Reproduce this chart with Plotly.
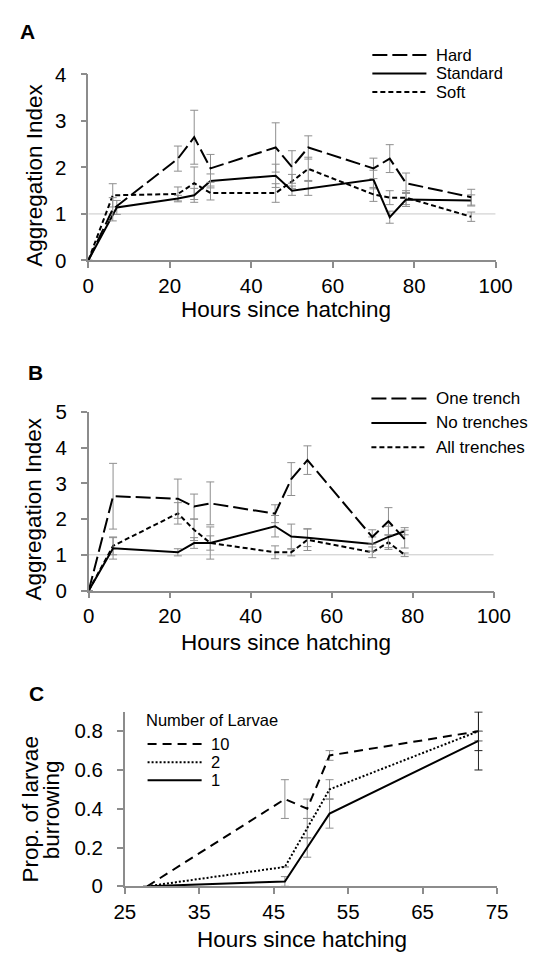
import plotly.graph_objects as go

W, H = 543, 962
FONT = "Liberation Sans, Arial, sans-serif"

# ---------------- Panel A data ----------------
a_names = ["Hard", "Standard", "Soft"]
a_hard_x = [0, 6, 22, 26, 30, 46, 50, 54, 70, 74, 78, 94]
a_hard_y = [0, 1.1, 2.19, 2.65, 1.98, 2.43, 2.01, 2.43, 1.98, 2.19, 1.66, 1.36]
a_hard_e = [0, 0.25, 0.27, 0.58, 0.3, 0.53, 0.35, 0.25, 0.22, 0.3, 0.22, 0.17]
a_std_x = [0, 7, 22, 26, 30, 46, 50, 54, 70, 74, 78, 94]
a_std_y = [0, 1.14, 1.33, 1.4, 1.71, 1.82, 1.5, 1.55, 1.74, 0.93, 1.31, 1.29]
a_std_e = [0, 0.15, 0.07, 0.15, 0.15, 0.25, 0.1, 0.15, 0.2, 0.13, 0.15, 0.12]
a_soft_x = [0, 6, 22, 26, 30, 46, 50, 54, 70, 74, 78, 94]
a_soft_y = [0, 1.4, 1.43, 1.66, 1.45, 1.45, 1.7, 1.97, 1.42, 1.35, 1.35, 0.94]
a_soft_e = [0, 0.25, 0.15, 0.35, 0.15, 0.2, 0.15, 0.25, 0.15, 0.15, 0.15, 0.1]

# ---------------- Panel B data ----------------
b_names = ["One trench", "No trenches", "All trenches"]
b_x = [0, 6, 22, 26, 30, 46, 50, 54, 70, 74, 78]
b_one_y = [0, 2.64, 2.57, 2.35, 2.44, 2.15, 3.12, 3.65, 1.5, 1.94, 1.44]
b_one_e = [0, 0.92, 0.55, 0.35, 0.6, 0.25, 0.46, 0.4, 0.2, 0.38, 0.25]
b_no_y = [0, 1.18, 1.07, 1.33, 1.33, 1.8, 1.51, 1.48, 1.3, 1.5, 1.66]
b_no_e = [0, 0.3, 0.1, 0.15, 0.45, 0.3, 0.35, 0.25, 0.2, 0.3, 0.1]
b_all_y = [0, 1.25, 2.16, 1.7, 1.33, 1.07, 1.07, 1.42, 1.07, 1.35, 1.0]
b_all_e = [0, 0.25, 0.3, 0.3, 0.2, 0.18, 0.1, 0.3, 0.15, 0.2, 0.05]

# ---------------- Panel C data ----------------
c_title = "Number of Larvae"
c_names = ["10", "2", "1"]
c_x = [28, 46.5, 49.5, 52.5, 72.5]
c_10_y = [0, 0.45, 0.40, 0.675, 0.80]
c_10_e = [0, 0.10, 0.05, 0.025, 0.10]
c_2_y = [0, 0.10, 0.30, 0.50, 0.80]
c_2_e = [0, 0.0, 0.05, 0.05, 0.0]
c_1_y = [0, 0.025, 0.20, 0.375, 0.75]
c_1_e = [0, 0.025, 0.05, 0.075, 0.15]
c_yticks = [0, 0.2, 0.4, 0.6, 0.8]
c_yticktext = ["0", "0.2", "0.4", "0.6", "0.8"]
c_dark_err_index = 4   # last time point drawn with dark error bars

LONG = "15px,5px"
SHORT = "5px,3px"
C_DASH = "9px,6px"
C_DOT = "2px,2px"
ERR_GREY = "#8f8f8f"
AX_GREY = "#8c8c8c"

def px(x):
    return x / W

def py(y):
    return 1 - y / H

fig = go.Figure()

def add_series(x, y, e, dash, xa, ya, width=2, ecolor=ERR_GREY, dark_idx=None):
    e_light = list(e) if dark_idx is None else [v if i != dark_idx else 0 for i, v in enumerate(e)]
    fig.add_trace(go.Scatter(
        x=x, y=y, mode="lines", xaxis=xa, yaxis=ya, showlegend=False,
        line=dict(color="black", width=width, dash=dash),
        error_y=dict(type="data", array=e_light, color=ecolor, thickness=1, width=4)))
    if dark_idx is not None and e[dark_idx] > 0:
        fig.add_trace(go.Scatter(
            x=[x[dark_idx]], y=[y[dark_idx]], mode="markers", xaxis=xa, yaxis=ya,
            showlegend=False, marker=dict(size=1, color="rgba(0,0,0,0)"),
            error_y=dict(type="data", array=[e[dark_idx]], color="#222222",
                         thickness=1, width=4)))

# reference lines at y=1 (A and B)
for xa, ya in (("x", "y"), ("x2", "y2")):
    fig.add_trace(go.Scatter(x=[0, 100], y=[1, 1], mode="lines", xaxis=xa, yaxis=ya,
                             showlegend=False, hoverinfo="skip",
                             line=dict(color="#c8c8c8", width=1)))

# Panel A
add_series(a_soft_x, a_soft_y, a_soft_e, SHORT, "x", "y")
add_series(a_std_x, a_std_y, a_std_e, "solid", "x", "y")
add_series(a_hard_x, a_hard_y, a_hard_e, LONG, "x", "y")
# Panel B
add_series(b_x, b_all_y, b_all_e, SHORT, "x2", "y2")
add_series(b_x, b_no_y, b_no_e, "solid", "x2", "y2")
add_series(b_x, b_one_y, b_one_e, LONG, "x2", "y2")
# Panel C
add_series(c_x, c_2_y, c_2_e, C_DOT, "x3", "y3", dark_idx=c_dark_err_index)
add_series(c_x, c_1_y, c_1_e, "solid", "x3", "y3", dark_idx=c_dark_err_index)
add_series(c_x, c_10_y, c_10_e, C_DASH, "x3", "y3", dark_idx=c_dark_err_index)

tickfont = dict(family=FONT, size=20.5, color="black")

def xaxis(dom, rng, dtick, anchor):
    return dict(domain=dom, range=rng, dtick=dtick, tick0=rng[0], anchor=anchor,
                showgrid=False, zeroline=False, showline=True, linecolor=AX_GREY,
                linewidth=1.5, ticks="outside", ticklen=6, tickwidth=1.5,
                tickcolor=AX_GREY, tickfont=tickfont, ticklabelstandoff=0,
                fixedrange=True)

def yaxis(dom, rng, dtick, anchor):
    return dict(domain=dom, range=rng, dtick=dtick, tick0=0, anchor=anchor,
                showgrid=False, zeroline=False, showline=True, linecolor=AX_GREY,
                linewidth=1.5, ticks="outside", ticklen=6, tickwidth=1.5,
                tickcolor=AX_GREY, tickfont=tickfont, ticklabelstandoff=10,
                fixedrange=True)

annotations = []
shapes = []

def text(x, y, s, size, bold=False, angle=0, xanchor="center", yanchor="middle"):
    annotations.append(dict(
        x=px(x), y=py(y), xref="paper", yref="paper", text=s, showarrow=False,
        textangle=angle, xanchor=xanchor, yanchor=yanchor,
        font=dict(family=FONT, size=size, color="black",
                  weight="bold" if bold else "normal")))

# panel letters
text(17, 20, "A", 21, bold=True)
text(26, 369, "B", 21, bold=True)
text(27, 698, "C", 21, bold=True)

# axis titles
text(290, 305, "Hours since hatching", 22.5)
text(290, 646, "Hours since hatching", 22.5)
text(307, 950, "Hours since hatching", 22.5)
text(24, 167, "Aggregation Index", 22.5, angle=-90)
text(24, 509, "Aggregation Index", 22.5, angle=-90)
text(20, 817, "Prop. of larvae", 22.5, angle=-90)
text(43, 817, "burrowing", 22.5, angle=-90)

# custom legends
def legend(names, dashes, x0, x1, ys, size, gap=8):
    for n, d, yy in zip(names, dashes, ys):
        shapes.append(dict(type="line", xref="paper", yref="paper",
                           x0=px(x0), x1=px(x1), y0=py(yy), y1=py(yy),
                           line=dict(color="black", width=2, dash=d)))
        text(x1 + gap, yy, n, size, xanchor="left")

legend(a_names, [LONG, "solid", SHORT], 381, 438, [44, 63, 82], 16.5)
legend(b_names, [LONG, "solid", SHORT], 380, 438, [396, 421, 446], 17)
text(140, 725, c_title, 16.5, xanchor="left")
legend(c_names, [C_DASH, C_DOT, "solid"], 144, 201, [750, 768.5, 787], 16.5, gap=8)

ya3 = yaxis([py(895.7), py(717)], [0, 0.9], 0.2, "x3")
ya3.update(tickmode="array", tickvals=c_yticks, ticktext=c_yticktext)

fig.update_layout(
    width=W, height=H, margin=dict(l=0, r=0, t=0, b=0),
    paper_bgcolor="white", plot_bgcolor="white", showlegend=False,
    xaxis=xaxis([px(81.5), px(511)], [0, 100], 20, "y"),
    yaxis=yaxis([py(254.5), py(64)], [0, 4], 1, "x"),
    xaxis2=xaxis([px(82), px(509)], [0, 100], 20, "y2"),
    yaxis2=yaxis([py(592.7), py(409.7)], [0, 5], 1, "x2"),
    xaxis3=xaxis([px(120), px(512.5)], [25, 75], 10, "y3"),
    yaxis3=ya3,
    annotations=annotations, shapes=shapes,
)

fig.write_html("out.html")
